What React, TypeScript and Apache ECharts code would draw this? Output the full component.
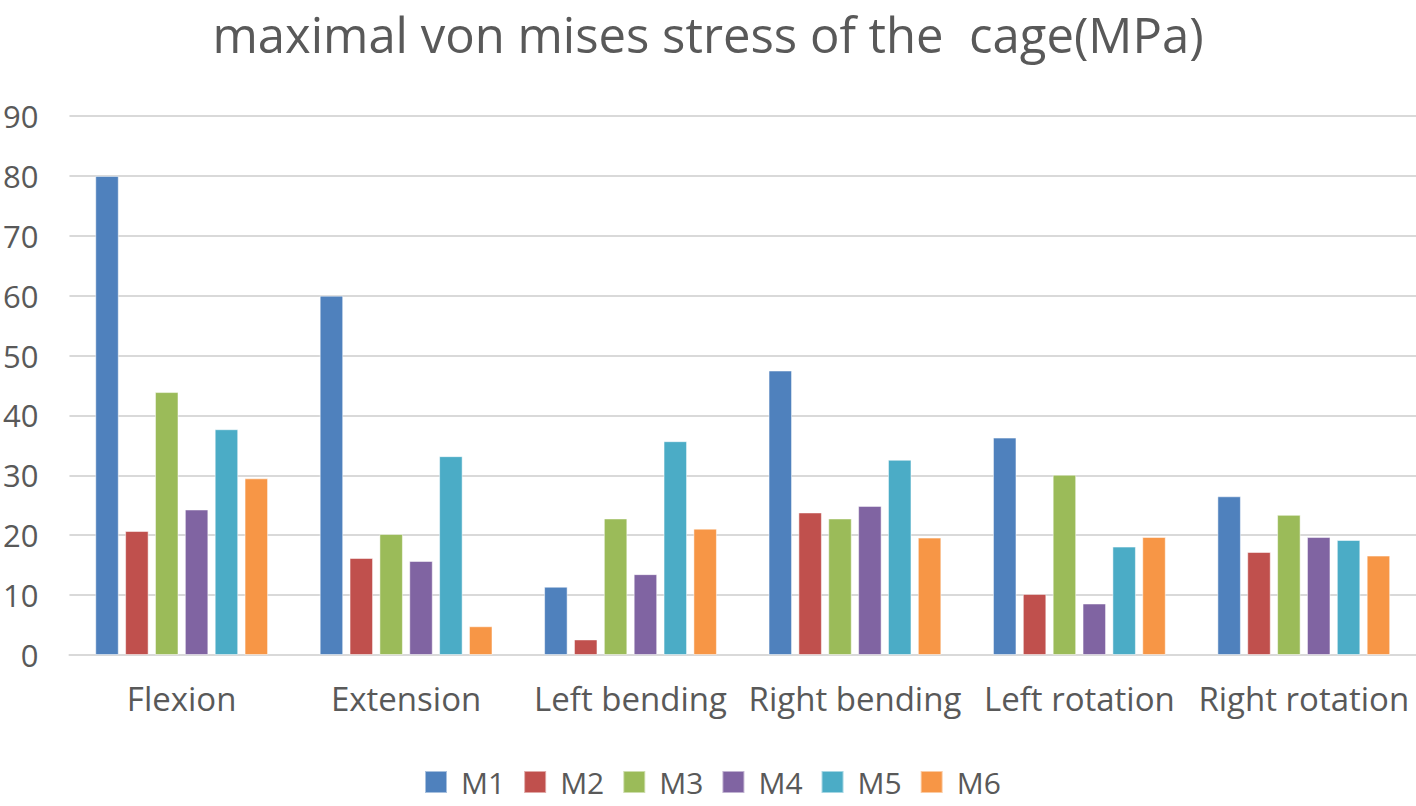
import React, { useEffect, useRef } from "react";
import * as echarts from "echarts";

const categories = ["Flexion", "Extension", "Left bending", "Right bending", "Left rotation", "Right rotation"];
const seriesNames = ["M1", "M2", "M3", "M4", "M5", "M6"];
const m1 = [80, 60, 11.4, 47.5, 36.3, 26.5];
const m2 = [20.7, 16.2, 2.6, 23.8, 10.2, 17.2];
const m3 = [43.9, 20.2, 22.8, 22.8, 30.1, 23.4];
const m4 = [24.3, 15.7, 13.5, 24.9, 8.6, 19.7];
const m5 = [37.7, 33.2, 35.7, 32.6, 18.1, 19.2];
const m6 = [29.5, 4.8, 21.1, 19.6, 19.7, 16.6];
const seriesValues = [m1, m2, m3, m4, m5, m6];
const colors = ["#4F81BD", "#C0504D", "#9BBB59", "#8064A2", "#4BACC6", "#F79646"];
const yTicks = [0, 10, 20, 30, 40, 50, 60, 70, 80, 90];

const FONT = "'Open Sans', 'Liberation Sans', sans-serif";
const TEXT = "#595959";

export default function App() {
  const ref = useRef<HTMLDivElement>(null);
  useEffect(() => {
    if (!ref.current) return;
    const chart = echarts.init(ref.current, undefined, { renderer: "svg" });
    chart.setOption({
      animation: false,
      backgroundColor: "#ffffff",
      color: colors,
      title: {
        text: "maximal von mises stress of the  cage(MPa)",
        left: "center",
        top: 8,
        padding: 0,
        textStyle: { fontFamily: FONT, fontSize: 49, lineHeight: 52, fontWeight: "normal", color: TEXT },
      },
      legend: {
        data: seriesNames,
        bottom: 4,
        left: 419,
        icon: "rect",
        itemWidth: 22,
        itemHeight: 22,
        itemGap: 18,
        textStyle: { fontFamily: FONT, fontSize: 30, color: TEXT, padding: [0, 0, 0, 9] },
      },
      grid: { left: 68, right: 0, top: 116, bottom: 151, containLabel: false },
      xAxis: {
        type: "category",
        data: categories,
        axisTick: { show: false },
        axisLine: { lineStyle: { color: "#d9d9d9", width: 2 } },
        axisLabel: { fontFamily: FONT, fontSize: 33, color: TEXT, margin: 27, interval: 0 },
      },
      yAxis: {
        type: "value",
        min: yTicks[0],
        max: yTicks[yTicks.length - 1],
        interval: 10,
        axisLine: { show: false },
        axisTick: { show: false },
        splitLine: { lineStyle: { color: "#d9d9d9", width: 2 } },
        axisLabel: { fontFamily: FONT, fontSize: 31, color: TEXT, margin: 31 },
      },
      series: seriesNames.map((name, i) => ({
        name,
        type: "bar",
        data: seriesValues[i],
        barCategoryGap: "23%",
        barGap: "27%",
        itemStyle: { color: colors[i], borderColor: "rgba(255,255,255,0.5)", borderWidth: 1 },
      })),
    });
    return () => chart.dispose();
  }, []);
  return (
    <div
      ref={ref}
      style={{ position: "absolute", left: 0, top: 0, width: 1416, height: 806 }}
    />
  );
}
